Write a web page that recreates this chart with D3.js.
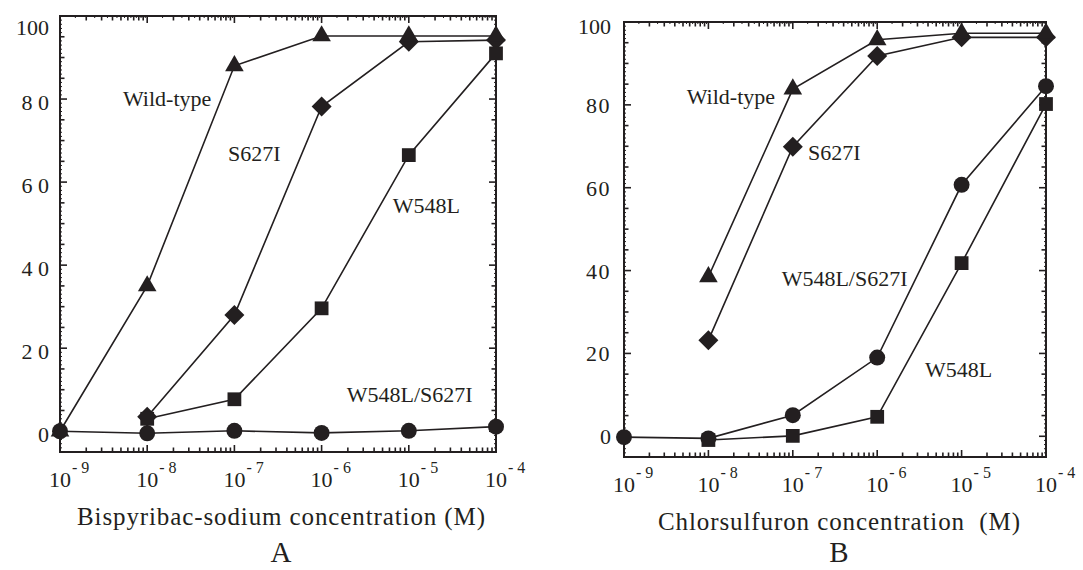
<!DOCTYPE html>
<html>
<head>
<meta charset="utf-8">
<script src="https://cdn.jsdelivr.net/npm/d3@7/dist/d3.min.js"></script>
<style>
  body { margin: 0; background: #fff; }
  text { font-family: "Liberation Serif", "Times New Roman", serif; fill: #231f20; white-space: pre; }
</style>
</head>
<body>
<div id="chart"></div>
<script>
// concentrations (M) shared by both panels
var concentrations = [1e-9, 1e-8, 1e-7, 1e-6, 1e-5, 1e-4];
var yTicks = [0, 20, 40, 60, 80, 100];

// panel A : bispyribac-sodium
var bispyWildType = [0, 35, 88, 95.2, 95.2, 95.2];
var bispyS627I   = [null, 3.5, 28, 78.2, 93.8, 94.2];
var bispyW548L   = [null, 3, 7.7, 29.6, 66.5, 91];
var bispyDouble  = [0, -0.5, 0.1, -0.4, 0.1, 1.1];

// panel B : chlorsulfuron
var chlorWildType = [null, 38.5, 83.8, 95.7, 97.3, 97.3];
var chlorS627I    = [null, 23.2, 69.9, 91.8, 96.3, 96.3];
var chlorDouble   = [-0.2, -0.5, 5.1, 19, 60.7, 84.5];
var chlorW548L    = [null, -0.9, 0.1, 4.7, 41.8, 80.2];

var ink = "#231f20";

var svg = d3.select("#chart").append("svg")
    .attr("width", 1083)
    .attr("height", 570);

//symbols
var symbols = {
  circle:   d3.symbol().type(d3.symbolCircle).size(200),
  square:   d3.symbol().type(d3.symbolSquare).size(190),
  diamond:  d3.symbol().type(d3.symbolSquare).size(200),
  triangle: d3.symbol().type(d3.symbolTriangle).size(150)
};

function drawPanel(cfg) {
  var x = d3.scaleLog().domain([1e-9, 1e-4]).range([cfg.left, cfg.right]);
  var y = d3.scaleLinear().domain([-5, 100]).range([cfg.bottom, cfg.top]);
  var g = svg.append("g");

  // frame
  g.append("rect")
      .attr("x", cfg.left).attr("y", cfg.top)
      .attr("width", cfg.right - cfg.left).attr("height", cfg.bottom - cfg.top)
      .style("fill", "none").style("stroke", ink).style("stroke-width", 2);

  // y ticks, both sides, pointing inwards
  var yMinor = d3.range(-5, 101, 1);
  yMinor.forEach(function(v) {
    var len = v % 20 === 0 ? 7 : (v % 5 === 0 ? 4.5 : 2);
    [[cfg.left, 1], [cfg.right, -1]].forEach(function(s) {
      g.append("line")
          .attr("x1", s[0]).attr("x2", s[0] + s[1] * len)
          .attr("y1", y(v)).attr("y2", y(v))
          .style("stroke", ink).style("stroke-width", len > 3 ? 1.6 : 1);
    });
  });

  // x ticks: decades, 2..9 minors, fine ruler on top
  d3.range(-9, -4).forEach(function(e) {
    for (var k = 1; k < 10; k += 0.5) {
      var v = k * Math.pow(10, e), isMajor = k === 1, isMinor = Number.isInteger(k);
      var lenB = isMajor ? 7 : (isMinor ? 4.5 : 0);
      var lenT = isMajor ? 7 : (isMinor ? 4.5 : 2);
      if (lenB) g.append("line")
          .attr("x1", x(v)).attr("x2", x(v))
          .attr("y1", cfg.bottom).attr("y2", cfg.bottom - lenB)
          .style("stroke", ink).style("stroke-width", 1.6);
      g.append("line")
          .attr("x1", x(v)).attr("x2", x(v))
          .attr("y1", cfg.top).attr("y2", cfg.top + lenT)
          .style("stroke", ink).style("stroke-width", lenT > 3 ? 1.6 : 1);
    }
  });
  [cfg.bottom, cfg.top].forEach(function(yy, i) {
    g.append("line")
        .attr("x1", x(1e-4)).attr("x2", x(1e-4))
        .attr("y1", yy).attr("y2", yy + (i ? 7 : -7))
        .style("stroke", ink).style("stroke-width", 1.6);
  });

  // y tick labels
  yTicks.forEach(function(v) {
    var txt = v === 100 ? "100" : (v === 0 ? "0" : cfg.tickFmt(v));
    g.append("text")
        .attr("x", cfg.left - cfg.labelGap)
        .attr("y", y(v) + cfg.labelDy + (v === 100 ? cfg.topShift : 0))
        .attr("text-anchor", "end")
        .style("font-size", "22px")
        .style("letter-spacing", v === 100 || v === 0 ? "0px" : cfg.tickSpacing)
        .text(txt);
  });

  // x tick labels 10^n
  concentrations.forEach(function(c) {
    var e = Math.round(Math.log10(c));
    g.append("text")
        .attr("x", x(c) + 11).attr("y", cfg.bottom + cfg.xLabelDy)
        .attr("text-anchor", "end")
        .style("font-size", "22px")
        .text("10");
    g.append("text")
        .attr("x", x(c) + 12).attr("y", cfg.bottom + cfg.xLabelDy - 14)
        .style("font-size", "16px")
        .text("- " + (-e));
  });

  // curves
  var line = d3.line()
      .defined(function(d) { return d[1] !== null; })
      .x(function(d) { return x(d[0]); })
      .y(function(d) { return y(d[1]); });

  cfg.series.forEach(function(s) {
    var pts = concentrations.map(function(c, i) { return [c, s.values[i]]; });
    g.append("path")
        .datum(pts)
        .attr("d", line)
        .style("fill", "none").style("stroke", ink).style("stroke-width", 1.6);
  });
  cfg.series.forEach(function(s) {
    var pts = concentrations.map(function(c, i) { return [c, s.values[i]]; })
        .filter(function(d) { return d[1] !== null; });
    g.selectAll(null)
        .data(pts)
        .enter().append("path")
        .attr("d", symbols[s.shape])
        .attr("transform", function(d) {
          return "translate(" + x(d[0]) + "," + y(d[1]) + ")" + (s.shape === "diamond" ? " rotate(45)" : "");
        })
        .style("fill", ink);
  });

  // curve labels (placed in data units)
  cfg.labels.forEach(function(l) {
    g.append("text")
        .attr("x", x(Math.pow(10, l.at[0]))).attr("y", y(l.at[1]))
        .style("font-size", "22px")
        .text(l.text);
  });

  // axis title and panel letter
  var mid = (cfg.left + cfg.right) / 2;
  g.append("text")
      .attr("x", mid + cfg.titleShift).attr("y", cfg.titleY)
      .attr("text-anchor", "middle")
      .attr("textLength", cfg.titleLength)
      .attr("lengthAdjust", "spacing")
      .style("font-size", "25px")
      .text(cfg.title);
  g.append("text")
      .attr("x", mid + cfg.titleShift).attr("y", 562)
      .attr("text-anchor", "middle")
      .style("font-size", "29px")
      .text(cfg.letter);
}

drawPanel({
  left: 60, right: 496, top: 16, bottom: 452,
  labelGap: 11, labelDy: 10.5, topShift: 8.5, tickSpacing: "0px",
  tickFmt: function(v) { return String(v).split("").join(" "); },
  xLabelDy: 35,
  title: "Bispyribac-sodium concentration (M)", titleLength: 408, titleY: 525, titleShift: 3,
  letter: "A",
  series: [
    {shape: "circle", values: bispyDouble},
    {shape: "diamond", values: bispyS627I},
    {shape: "square", values: bispyW548L},
    {shape: "triangle", values: bispyWildType}
  ],
  labels: [
    {text: "Wild-type", at: [-8.278, 78.3]},
    {text: "S627I", at: [-7.073, 65.1]},
    {text: "W548L", at: [-5.185, 52.5]},
    {text: "W548L/S627I", at: [-5.712, 7.1]}
  ]
});

drawPanel({
  left: 624, right: 1046, top: 22, bottom: 457,
  labelGap: 13, labelDy: 8, topShift: 4, tickSpacing: "1.5px",
  tickFmt: function(v) { return String(v); },
  xLabelDy: 35,
  title: "Chlorsulfuron concentration  (M)", titleLength: 362, titleY: 530, titleShift: 4,
  letter: "B",
  series: [
    {shape: "circle", values: chlorDouble},
    {shape: "square", values: chlorW548L},
    {shape: "diamond", values: chlorS627I},
    {shape: "triangle", values: chlorWildType}
  ],
  labels: [
    {text: "Wild-type", at: [-8.257, 80.2]},
    {text: "S627I", at: [-6.82, 66.7]},
    {text: "W548L/S627I", at: [-7.132, 36.3]},
    {text: "W548L", at: [-5.434, 14.4]}
  ]
});
</script>
</body>
</html>
